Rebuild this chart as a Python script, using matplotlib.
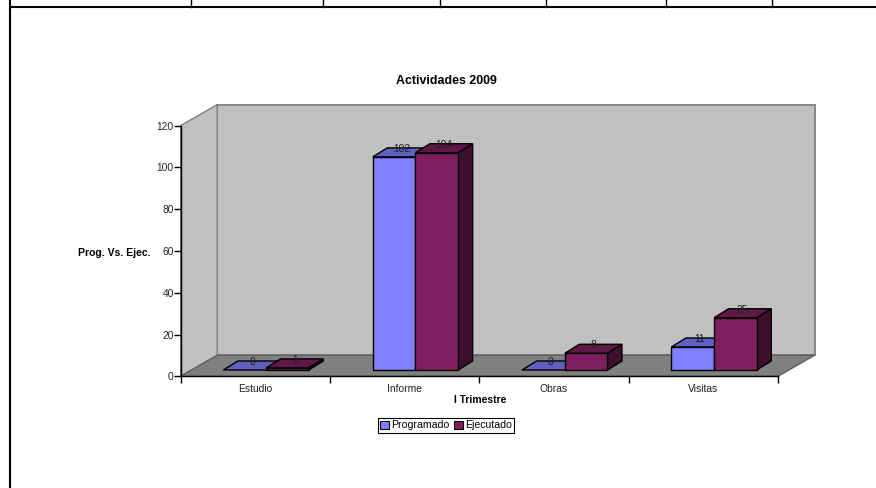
import matplotlib
matplotlib.use("Agg")
import matplotlib.pyplot as plt
from matplotlib.patches import Polygon, Patch
from matplotlib.lines import Line2D

plt.rcParams['font.family'] = ['Liberation Sans', 'DejaVu Sans']

categories = ["Estudio", "Informe", "Obras", "Visitas"]
programado = [0, 102, 0, 11]
ejecutado = [1, 104, 8, 25]
table_ticks = [191, 323, 440, 546, 666, 772]

W, H = 876, 488
X0, X1 = 180.7, 778.0   # front edge of the floor, pixels
Y0, Y120 = 376.3, 125.6

fig = plt.figure(figsize=(W / 100, H / 100), dpi=100)
ax = fig.add_axes([X0 / W, 1 - Y0 / H, (X1 - X0) / W, (Y0 - Y120) / H])
ax.set_xlim(0, 4)
ax.set_ylim(0, 120)
ax.patch.set_visible(False)

# pixels -> data units, for the fake 3d depth
ux = 4 / (X1 - X0)
uy = 120 / (Y0 - Y120)
wall_dx, wall_dy = 36.5 * ux, 21 * uy
bar_dx, bar_dy = 14.5 * ux, 9 * uy
base = 6.3 * uy
bar_w = 42.7 * ux
offset = 0.572


def poly(pts, fc, ec, lw=1.0, z=1):
    ax.add_patch(Polygon(pts, closed=True, fc=fc, ec=ec, lw=lw, zorder=z,
                         clip_on=False, joinstyle="miter"))


# walls and floor
poly([(wall_dx, wall_dy), (4 + wall_dx, wall_dy), (4 + wall_dx, 120 + wall_dy),
      (wall_dx, 120 + wall_dy)], "#c0c0c0", "#808080", 1.3)
poly([(0, 0), (wall_dx, wall_dy), (wall_dx, 120 + wall_dy), (0, 120)],
     "#c0c0c0", "#808080", 1.0)
poly([(0, 0), (4, 0), (4 + wall_dx, wall_dy), (wall_dx, wall_dy)],
     "#808080", "#606060", 1.0)


def bar3d(x, v, front, top, side, z):
    y = base + v
    poly([(x, y), (x + bar_w, y), (x + bar_w + bar_dx, y + bar_dy),
          (x + bar_dx, y + bar_dy)], top, "black", 1.0, z)
    if v > 0:
        poly([(x + bar_w, base), (x + bar_w + bar_dx, base + bar_dy),
              (x + bar_w + bar_dx, y + bar_dy), (x + bar_w, y)], side, "black", 1.0, z)
        ax.bar(x, v, bottom=base, width=bar_w, align="edge", color=front,
               edgecolor="black", linewidth=1.0, zorder=z, clip_on=False)
    return y


for i in range(len(categories)):
    xc = i + offset
    y_p = bar3d(xc - bar_w, programado[i], "#8080ff", "#6060c0", "#404080", 3)
    y_e = bar3d(xc, ejecutado[i], "#7f1f5f", "#5f1747", "#3f0f2f", 4)
    ax.text(xc - bar_w / 2 + bar_dx / 2, y_p + bar_dy - 1 * uy, str(programado[i]),
            ha="center", va="center", fontsize=7.4, color="#202020", zorder=6)
    ax.text(xc + bar_w / 2 + bar_dx / 2, y_e + bar_dy - 1 * uy, str(ejecutado[i]),
            ha="center", va="center", fontsize=7.4, color="#202020", zorder=6)

# axes
for s in ["top", "right"]:
    ax.spines[s].set_visible(False)
for s in ["left", "bottom"]:
    ax.spines[s].set_linewidth(1.0)
    ax.spines[s].set_zorder(5)
ax.set_yticks(range(0, 121, 20))
ax.set_xticks(range(5))
ax.set_xticklabels([])
ax.tick_params(axis="y", length=5, width=1, labelsize=7.4, pad=0, labelcolor="#222222")
ax.tick_params(axis="x", length=5, width=1)
for i, c in enumerate(categories):
    ax.text(i + 0.5, -12.5 * uy, c, ha="center", va="center",
            fontsize=7.4, color="#222222", clip_on=False)

fig.text(446 / W, 1 - 80.7 / H, "Actividades 2009", ha="center", va="center",
         fontsize=8.9, fontweight="bold")
fig.text(114.5 / W, 1 - 252.5 / H, "Prog. Vs. Ejec.", ha="center", va="center",
         fontsize=7.5, fontweight="bold")
fig.text(480 / W, 1 - 400 / H, "I Trimestre", ha="center", va="center",
         fontsize=7.4, fontweight="bold")

handles = [Patch(fc="#8080ff", ec="black", lw=0.8, label="Programado"),
           Patch(fc="#7f1f5f", ec="black", lw=0.8, label="Ejecutado")]
leg = fig.legend(handles=handles, loc="center", bbox_to_anchor=(446 / W, 1 - 425.5 / H),
                 ncol=2, fontsize=7.6, frameon=True, fancybox=False, edgecolor="black",
                 framealpha=1, borderpad=0.2, handlelength=0.8, handleheight=0.8,
                 handletextpad=0.2, columnspacing=0.5, borderaxespad=0)
leg.get_frame().set_linewidth(0.8)

# table borders of the sheet the chart was pasted in
fig.add_artist(Line2D([10 / W, 1], [1 - 6.5 / H] * 2, color="black", lw=1.5))
fig.add_artist(Line2D([10 / W] * 2, [1 / H, 1], color="black", lw=1.5))
for t in table_ticks:
    fig.add_artist(Line2D([t / W] * 2, [1 - 6.5 / H, 1], color="black", lw=1.0))

fig.savefig("out.png", dpi=100)
